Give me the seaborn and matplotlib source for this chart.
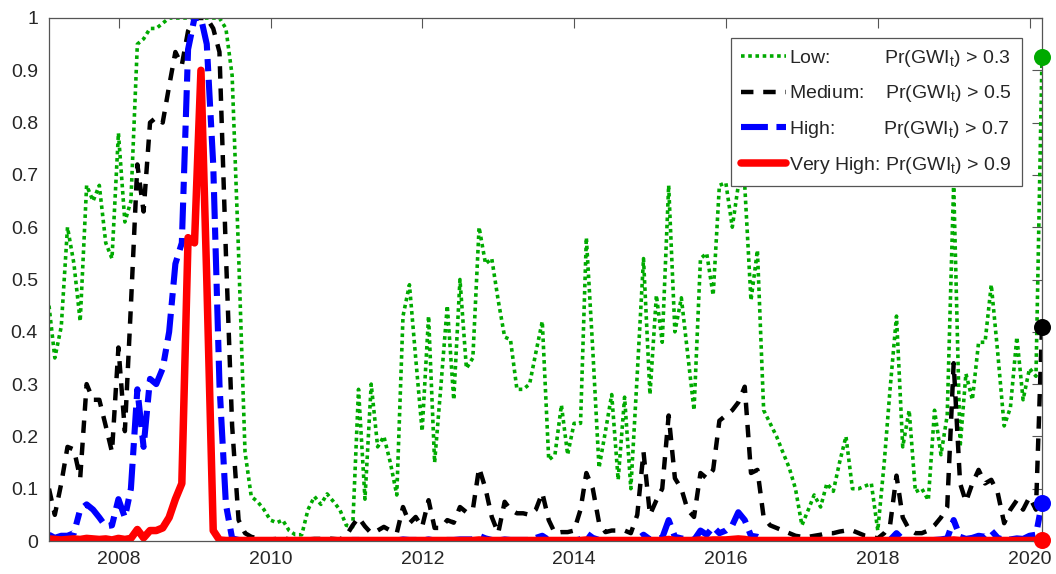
import matplotlib
matplotlib.use('Agg')
import matplotlib.dates as mdates
import matplotlib.pyplot as plt
import pandas as pd
import seaborn as sns

# month-end dates, Jan 2007 .. Feb 2020
dates = pd.date_range('2007-02-01', periods=158, freq='MS') - pd.Timedelta(days=1)

low = [
    0.45, 0.35, 0.41, 0.60, 0.53, 0.42, 0.68, 0.65, 0.68, 0.57, 0.54, 0.78,  # 2007
    0.61, 0.65, 0.95, 0.96, 0.98, 0.98, 0.99, 1.00, 1.00, 1.00, 1.00, 1.00,  # 2008
    1.00, 1.00, 1.00, 1.00, 0.98, 0.89, 0.55, 0.17, 0.085, 0.075, 0.06, 0.04,  # 2009
    0.035, 0.04, 0.02, 0.012, 0.012, 0.06, 0.085, 0.07, 0.09, 0.075, 0.06, 0.03,  # 2010
    0.027, 0.29, 0.08, 0.30, 0.18, 0.20, 0.15, 0.088, 0.43, 0.49, 0.35, 0.21,  # 2011
    0.43, 0.15, 0.30, 0.45, 0.27, 0.50, 0.33, 0.35, 0.60, 0.53, 0.54, 0.46,  # 2012
    0.39, 0.385, 0.29, 0.29, 0.30, 0.36, 0.42, 0.155, 0.165, 0.26, 0.165, 0.225,  # 2013
    0.225, 0.58, 0.365, 0.14, 0.21, 0.28, 0.117, 0.275, 0.10, 0.32, 0.54, 0.28,  # 2014
    0.47, 0.38, 0.68, 0.40, 0.465, 0.36, 0.25, 0.54, 0.55, 0.47, 0.68, 0.685,  # 2015
    0.60, 0.68, 0.68, 0.46, 0.556, 0.25, 0.225, 0.20, 0.17, 0.14, 0.10, 0.03,  # 2016
    0.06, 0.088, 0.065, 0.11, 0.095, 0.15, 0.20, 0.10, 0.10, 0.105, 0.11, 0.02,  # 2017
    0.15, 0.29, 0.43, 0.18, 0.25, 0.094, 0.10, 0.078, 0.25, 0.165, 0.24, 0.685,  # 2018
    0.18, 0.32, 0.27, 0.38, 0.38, 0.49, 0.36, 0.22, 0.255, 0.39, 0.27, 0.33,  # 2019
    0.315, 0.925,  # 2020
]

medium = [
    0.10, 0.05, 0.11, 0.18, 0.175, 0.12, 0.30, 0.27, 0.27, 0.22, 0.17, 0.37,
    0.21, 0.45, 0.72, 0.63, 0.80, 0.81, 0.80, 0.87, 0.935, 0.91, 0.975, 1.00,
    1.00, 1.00, 0.98, 0.935, 0.55, 0.22, 0.04, 0.015, 0.008, 0.005, 0.003, 0.003,
    0.004, 0.006, 0.003, 0.002, 0.002, 0.003, 0.004, 0.004, 0.005, 0.004, 0.003, 0.01,
    0.03, 0.045, 0.028, 0.015, 0.02, 0.027, 0.02, 0.015, 0.065, 0.034, 0.046, 0.027,
    0.078, 0.025, 0.025, 0.04, 0.035, 0.065, 0.055, 0.06, 0.14, 0.10, 0.046, 0.015,
    0.075, 0.06, 0.053, 0.053, 0.05, 0.06, 0.092, 0.04, 0.015, 0.017, 0.017, 0.02,
    0.06, 0.13, 0.10, 0.035, 0.017, 0.02, 0.02, 0.02, 0.015, 0.05, 0.17, 0.05,
    0.078, 0.10, 0.24, 0.12, 0.10, 0.06, 0.046, 0.13, 0.12, 0.136, 0.23, 0.24,
    0.25, 0.265, 0.295, 0.13, 0.136, 0.045, 0.03, 0.025, 0.02, 0.015, 0.01, 0.008,
    0.008, 0.01, 0.012, 0.015, 0.015, 0.018, 0.02, 0.02, 0.015, 0.01, 0.008, 0.005,
    0.015, 0.03, 0.125, 0.045, 0.022, 0.015, 0.015, 0.02, 0.03, 0.045, 0.065, 0.34,
    0.11, 0.075, 0.11, 0.136, 0.11, 0.117, 0.092, 0.034, 0.06, 0.078, 0.06, 0.084,
    0.06, 0.41,
]

high = [
    0.012, 0.006, 0.01, 0.01, 0.015, 0.06, 0.07, 0.06, 0.045, 0.028, 0.03, 0.08,
    0.045, 0.10, 0.29, 0.18, 0.31, 0.30, 0.33, 0.40, 0.53, 0.57, 0.94, 1.00,
    1.00, 0.95, 0.72, 0.30, 0.07, 0.005, 0.002, 0.001, 0.001, 0.001, 0.001, 0.001,
    0.001, 0.001, 0.001, 0.001, 0.001, 0.001, 0.001, 0.001, 0.001, 0.001, 0.001, 0.001,
    0.002, 0.002, 0.001, 0.001, 0.001, 0.002, 0.001, 0.001, 0.003, 0.002, 0.002, 0.001,
    0.003, 0.001, 0.001, 0.002, 0.002, 0.003, 0.003, 0.003, 0.01, 0.005, 0.002, 0.001,
    0.003, 0.002, 0.002, 0.002, 0.002, 0.006, 0.01, 0.002, 0.001, 0.001, 0.001, 0.001,
    0.003, 0.015, 0.006, 0.002, 0.001, 0.001, 0.001, 0.001, 0.001, 0.003, 0.012, 0.003,
    0.004, 0.006, 0.04, 0.008, 0.005, 0.003, 0.002, 0.02, 0.012, 0.027, 0.015, 0.02,
    0.03, 0.055, 0.04, 0.01, 0.008, 0.002, 0.001, 0.001, 0.001, 0.001, 0.001, 0.001,
    0.001, 0.001, 0.001, 0.001, 0.001, 0.001, 0.001, 0.001, 0.001, 0.001, 0.001, 0.001,
    0.001, 0.002, 0.015, 0.003, 0.001, 0.001, 0.001, 0.001, 0.002, 0.003, 0.005, 0.04,
    0.008, 0.004, 0.006, 0.01, 0.008, 0.02, 0.006, 0.002, 0.003, 0.005, 0.004, 0.01,
    0.012, 0.073,
]

very_high = [
    0.004, 0.003, 0.002, 0.003, 0.004, 0.003, 0.005, 0.004, 0.003, 0.004, 0.002, 0.005,
    0.003, 0.005, 0.022, 0.006, 0.02, 0.02, 0.025, 0.045, 0.08, 0.11, 0.58, 0.57,
    0.90, 0.50, 0.02, 0.002, 0.001, 0.001, 0.001, 0.001, 0.001, 0.001, 0.001, 0.001,
    0.001, 0.001, 0.001, 0.001, 0.001, 0.001, 0.001, 0.001, 0.001, 0.001, 0.001, 0.001,
    0.001, 0.001, 0.001, 0.001, 0.001, 0.001, 0.001, 0.001, 0.001, 0.001, 0.001, 0.001,
    0.001, 0.001, 0.001, 0.001, 0.001, 0.001, 0.001, 0.001, 0.002, 0.001, 0.001, 0.001,
    0.001, 0.001, 0.001, 0.001, 0.001, 0.001, 0.001, 0.001, 0.001, 0.001, 0.001, 0.001,
    0.001, 0.002, 0.001, 0.001, 0.001, 0.001, 0.001, 0.001, 0.001, 0.001, 0.001, 0.001,
    0.001, 0.001, 0.003, 0.001, 0.001, 0.001, 0.001, 0.002, 0.001, 0.002, 0.002, 0.002,
    0.003, 0.004, 0.003, 0.001, 0.001, 0.001, 0.001, 0.001, 0.001, 0.001, 0.001, 0.001,
    0.001, 0.001, 0.001, 0.001, 0.001, 0.001, 0.001, 0.001, 0.001, 0.001, 0.001, 0.001,
    0.001, 0.001, 0.001, 0.001, 0.001, 0.001, 0.001, 0.001, 0.001, 0.001, 0.001, 0.002,
    0.001, 0.001, 0.001, 0.001, 0.001, 0.001, 0.001, 0.001, 0.001, 0.001, 0.001, 0.001,
    0.001, 0.002,
]

labels = [
    'Low:' + ' ' * 10 + r'Pr(GWI$_\mathregular{t}$) > 0.3',
    'Medium:' + ' ' * 4 + r'Pr(GWI$_\mathregular{t}$) > 0.5',
    'High:' + ' ' * 9 + r'Pr(GWI$_\mathregular{t}$) > 0.7',
    'Very High: ' + r'Pr(GWI$_\mathregular{t}$) > 0.9',
]
colors = ['#00aa00', 'black', '#0000ff', '#ff0000']
styles = [(0, (1.0, 1.0)), (0, (2.8, 2.2)), (0, (4.4, 1.4, 2.0, 1.4)), '-']
widths = [2.6, 3.2, 4.4, 5.4]

sns.set_style('white')
plt.rcParams['font.family'] = ['Liberation Sans', 'DejaVu Sans']
plt.rcParams['font.size'] = 14

fig = plt.figure(figsize=(10.56, 5.74), dpi=100)
ax = fig.add_axes([49 / 1056, 1 - 541 / 574, (1042 - 49) / 1056, (541 - 18) / 574])

series = [low, medium, high, very_high]
for vals, lab, col, ls, lw in zip(series, labels, colors, styles, widths):
    sns.lineplot(x=dates, y=vals, ax=ax, color=col, linestyle=ls, linewidth=lw,
                 label=lab)

for vals, col in zip(series, colors):
    sns.scatterplot(x=[dates[-1]], y=[vals[-1]], ax=ax, color=col, s=150,
                    edgecolor=col, linewidth=0, zorder=5, clip_on=False, legend=False)

ax.set_xlim(dates[0], dates[-1])
ax.set_ylim(0, 1)
ax.xaxis.set_major_locator(mdates.YearLocator(2))
ax.xaxis.set_major_formatter(mdates.DateFormatter('%Y'))
ax.set_yticks([i / 10 for i in range(11)])
ax.set_yticklabels(['0'] + ['0.%d' % i for i in range(1, 10)] + ['1'])
ax.set_xlabel('')
ax.set_ylabel('')

axis_col = '#262626'
for sp in ax.spines.values():
    sp.set_visible(True)
    sp.set_color('#555555')
    sp.set_linewidth(0.9)
ax.tick_params(axis='both', direction='in', length=7, width=0.8, color='#555555',
               labelcolor=axis_col, labelsize=14, top=True, right=True)
ax.tick_params(axis='x', pad=7)
ax.tick_params(axis='y', pad=8)

leg = ax.legend(loc='upper right', bbox_to_anchor=(0.98, 0.962), borderaxespad=0,
                fontsize=14, handlelength=2.3, handletextpad=0.2, labelspacing=0.76,
                borderpad=0.5, fancybox=False, framealpha=1, edgecolor='#555555')
leg.get_frame().set_linewidth(0.9)
for t in leg.get_texts():
    t.set_color(axis_col)

fig.savefig('out.png', dpi=100)
